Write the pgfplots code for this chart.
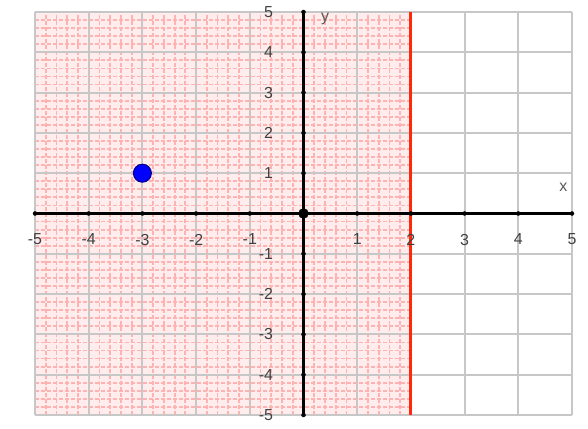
\documentclass[border=0pt]{standalone}
\usepackage{pgfplots}
\pgfplotsset{compat=1.18}
\usepackage{fontspec}
\setmainfont{Liberation Sans}
\definecolor{bred}{RGB}{255,40,10}
\begin{document}
\begin{tikzpicture}
\begin{axis}[
  at={(0,0)}, anchor=south west,
  scale only axis, width=537bp, height=403bp,
  xmin=-5, xmax=5, ymin=-5, ymax=5,
  axis lines=middle,
  axis line style={black, line width=2.2bp, -},
  axis on top,
  xtick={-5,-4,-3,-2,-1,1,2,3,4,5},
  ytick={-5,-4,-3,-2,-1,1,2,3,4,5},
  major tick length=0pt,
  tick label style={font=\fontsize{16}{17}\selectfont, text=black!75},
  xticklabel style={yshift=-17bp},
  yticklabel style={xshift=-27bp},
  /pgf/number format/assume math mode=true,
  clip=false,
]
% shaded half-plane x < 2
\addplot[fill=red!7, draw=none] coordinates {(-5,-5) (2,-5) (2,5) (-5,5)} -- cycle;
\pgfplotsinvokeforeach{-4.8,-4.6,...,1.9}{
  \draw[red!30, line width=1.8bp, dash pattern=on 4bp off 2bp] (axis cs:#1,-5) -- (axis cs:#1,5);
}
\pgfplotsinvokeforeach{-4.8,-4.6,...,4.9}{
  \draw[red!30, line width=1.8bp, dash pattern=on 4bp off 2bp] (axis cs:-5,#1) -- (axis cs:2,#1);
}
% grid
\pgfplotsinvokeforeach{-5,...,5}{
  \draw[black!22, line width=2bp] (axis cs:#1,-5) -- (axis cs:#1,5);
  \draw[black!22, line width=2bp] (axis cs:-5,#1) -- (axis cs:5,#1);
}
% boundary line x = 2
\addplot[bred, line width=3bp] coordinates {(2,-5) (2,5)};
% tick dots
\addplot[only marks, mark=*, mark size=2bp, black] coordinates {
 (-5,0) (-4,0) (-3,0) (-2,0) (-1,0) (1,0) (2,0) (3,0) (4,0) (5,0)
 (0,-5) (0,-4) (0,-3) (0,-2) (0,-1) (0,1) (0,2) (0,3) (0,4) (0,5)};
% origin
\addplot[only marks, mark=*, mark size=5bp, black] coordinates {(0,0)};
% point
\addplot[only marks, mark=*, mark size=9bp, draw=blue!50!black, line width=1bp, fill=blue] coordinates {(-3,1)};
\node[font=\fontsize{16}{17}\selectfont, text=black!65] at (axis cs:4.84,0.64) {x};
\node[font=\fontsize{16}{17}\selectfont, text=black!65] at (axis cs:0.4,4.82) {y};
\end{axis}
\pgfresetboundingbox
\path (-35bp,-14bp) rectangle (553bp,415bp);
\end{tikzpicture}
\end{document}
